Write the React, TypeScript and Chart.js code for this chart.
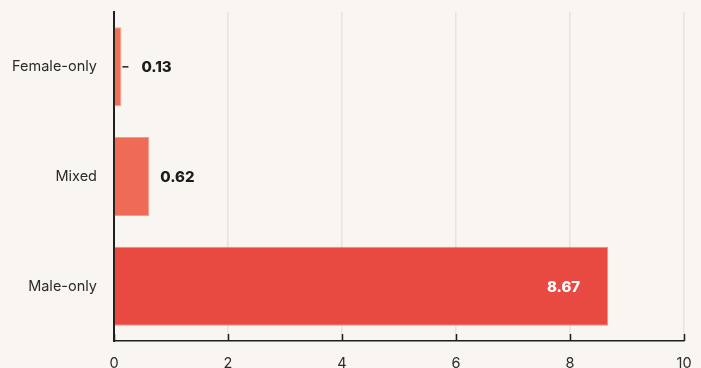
import React, { useEffect, useRef } from "react";
import { Chart, registerables } from "chart.js";

Chart.register(...registerables);

const categories = ["Female-only", "Mixed", "Male-only"];
const values = [0.13, 0.62, 8.67];
const barColors = ["#f06f56", "#ee6c55", "#e84a41"];
const barEdgeColors = ["#f6a090", "#f49c8c", "#f08a82"];
const xTicks = [0, 2, 4, 6, 8, 10];

const FONT = "Inter, 'Noto Sans', sans-serif";

// Short dark tick marks pointing up into the plot from the x axis line
const innerTicks = {
  id: "innerTicks",
  afterDraw(chart: any) {
    const { ctx, chartArea, scales } = chart;
    const x = scales.x;
    ctx.save();
    ctx.strokeStyle = "#1f1f1f";
    ctx.lineWidth = 1.5;
    xTicks.forEach((t) => {
      const px = Math.round(x.getPixelForValue(t)) + 0.5;
      ctx.beginPath();
      ctx.moveTo(px, chartArea.bottom);
      ctx.lineTo(px, chartArea.bottom - 7);
      ctx.stroke();
    });
    ctx.restore();
  },
};

// Value labels: outside for short bars (with a leader dash when tiny), inside for long ones
const valueLabels = {
  id: "valueLabels",
  afterDatasetsDraw(chart: any) {
    const { ctx } = chart;
    const meta = chart.getDatasetMeta(0);
    ctx.save();
    ctx.font = `800 15px ${FONT}`;
    ctx.textBaseline = "middle";
    meta.data.forEach((bar: any, i: number) => {
      const v = values[i];
      const text = v.toFixed(2);
      const end = bar.x;
      const y = bar.y;
      const width = end - bar.base;
      if (width > 100) {
        ctx.fillStyle = "#ffffff";
        ctx.textAlign = "right";
        ctx.fillText(text, end - 28, y + 1);
      } else if (width < 12) {
        ctx.strokeStyle = "#1f1f1f";
        ctx.lineWidth = 1.5;
        ctx.beginPath();
        ctx.moveTo(end + 1, y);
        ctx.lineTo(end + 7, y);
        ctx.stroke();
        ctx.fillStyle = "#1c1c1c";
        ctx.textAlign = "left";
        ctx.fillText(text, end + 20, y + 1);
      } else {
        ctx.fillStyle = "#1c1c1c";
        ctx.textAlign = "left";
        ctx.fillText(text, end + 11, y + 1);
      }
    });
    ctx.restore();
  },
};

const noLabelPadding = (scale: any) => {
  scale.paddingTop = 0;
  scale.paddingBottom = 0;
  scale.paddingLeft = 0;
  scale.paddingRight = 0;
};

export default function App() {
  const canvasRef = useRef<HTMLCanvasElement | null>(null);

  useEffect(() => {
    if (!canvasRef.current) return;
    const chart = new Chart(canvasRef.current, {
      type: "bar",
      data: {
        labels: categories,
        datasets: [
          {
            data: values,
            backgroundColor: barColors,
            borderColor: barEdgeColors,
            borderWidth: 1,
            borderSkipped: "left",
            barPercentage: 0.81,
            categoryPercentage: 0.89,
          },
        ],
      },
      options: {
        indexAxis: "y",
        responsive: false,
        animation: false,
        maintainAspectRatio: false,
        layout: { padding: { top: 12, right: 17, left: 0, bottom: 0 } },
        plugins: {
          legend: { display: false },
          tooltip: { enabled: false },
        },
        scales: {
          x: {
            min: 0,
            max: 10,
            afterFit(scale: any) {
              scale.height = 27;
              noLabelPadding(scale);
            },
            afterBuildTicks(scale: any) {
              scale.ticks = xTicks.map((v) => ({ value: v }));
            },
            grid: {
              color: "#e6e2dc",
              lineWidth: 1.5,
              drawTicks: false,
            },
            border: { display: true, color: "#1f1f1f", width: 1.5 },
            ticks: {
              padding: 14,
              color: "#2b2b2b",
              font: { family: FONT, size: 14.5 },
            },
          },
          y: {
            afterFit(scale: any) {
              scale.width = 114;
              noLabelPadding(scale);
            },
            grid: { display: false, drawTicks: false },
            border: { display: true, color: "#1f1f1f", width: 2 },
            ticks: {
              padding: 17,
              color: "#2b2b2b",
              font: { family: FONT, size: 14.5 },
            },
          },
        },
      },
      plugins: [innerTicks, valueLabels],
    });
    return () => chart.destroy();
  }, []);

  return (
    <div
      style={{
        position: "fixed",
        left: 0,
        top: 0,
        width: 701,
        height: 368,
        background: "#f9f5f0",
      }}
    >
      <canvas ref={canvasRef} width={701} height={368} style={{ display: "block" }} />
    </div>
  );
}
